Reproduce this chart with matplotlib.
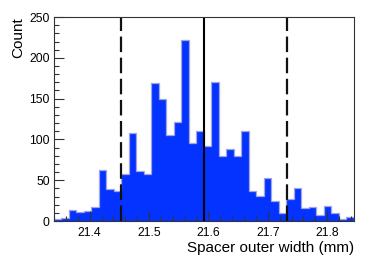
import numpy as np
import matplotlib
matplotlib.use("Agg")
import matplotlib.pyplot as plt
from matplotlib.ticker import MultipleLocator

# histogram contents, 40 bins
x_min = 21.34
x_max = 21.845
counts = [2, 4, 13, 11, 12, 17, 63, 39, 37, 58,
          108, 61, 57, 169, 149, 105, 121, 222, 96, 110,
          92, 170, 80, 88, 80, 110, 37, 31, 53, 24,
          10, 27, 40, 16, 17, 7, 18, 10, 3, 5]
mean_val = 21.592
cut_low = 21.452
cut_high = 21.732

plt.rcParams['font.family'] = ['Liberation Sans', 'DejaVu Sans']

edges = np.linspace(x_min, x_max, len(counts) + 1)

fig = plt.figure(figsize=(3.81, 2.58), dpi=100)
ax = fig.add_axes([0.1417, 0.1434, 0.9291 - 0.1417, 0.934 - 0.1434])

ax.stairs(counts, edges, fill=True, color='#0433ff', linewidth=0)
ax.stairs(counts, edges, fill=False, color='#a0a4e0', linewidth=0.9)

ax.axvline(mean_val, color='black', lw=1.5)
for v in (cut_low, cut_high):
    ax.axvline(v, color='#111111', lw=1.6, dashes=(7, 2.5))

ax.set_xlim(x_min, x_max)
ax.set_ylim(0, 250)

ax.xaxis.set_major_locator(MultipleLocator(0.1))
ax.xaxis.set_minor_locator(MultipleLocator(0.02))
ax.yaxis.set_major_locator(MultipleLocator(50))
ax.yaxis.set_minor_locator(MultipleLocator(10))
ax.tick_params(which='both', direction='in', top=False, right=False,
               labelsize=8.8, width=0.8, color='#333333')
ax.tick_params(which='major', length=7)
ax.tick_params(which='minor', length=3.5)
ax.tick_params(axis='x', pad=4)
ax.tick_params(axis='y', pad=3)
for s in ax.spines.values():
    s.set_linewidth(0.8)
    s.set_color('#333333')

ax.set_xlabel("Spacer outer width (mm)", fontsize=11, loc='right', labelpad=2)
ax.set_ylabel("Count", fontsize=11, loc='top', labelpad=3)

fig.savefig("out.png", dpi=100)
